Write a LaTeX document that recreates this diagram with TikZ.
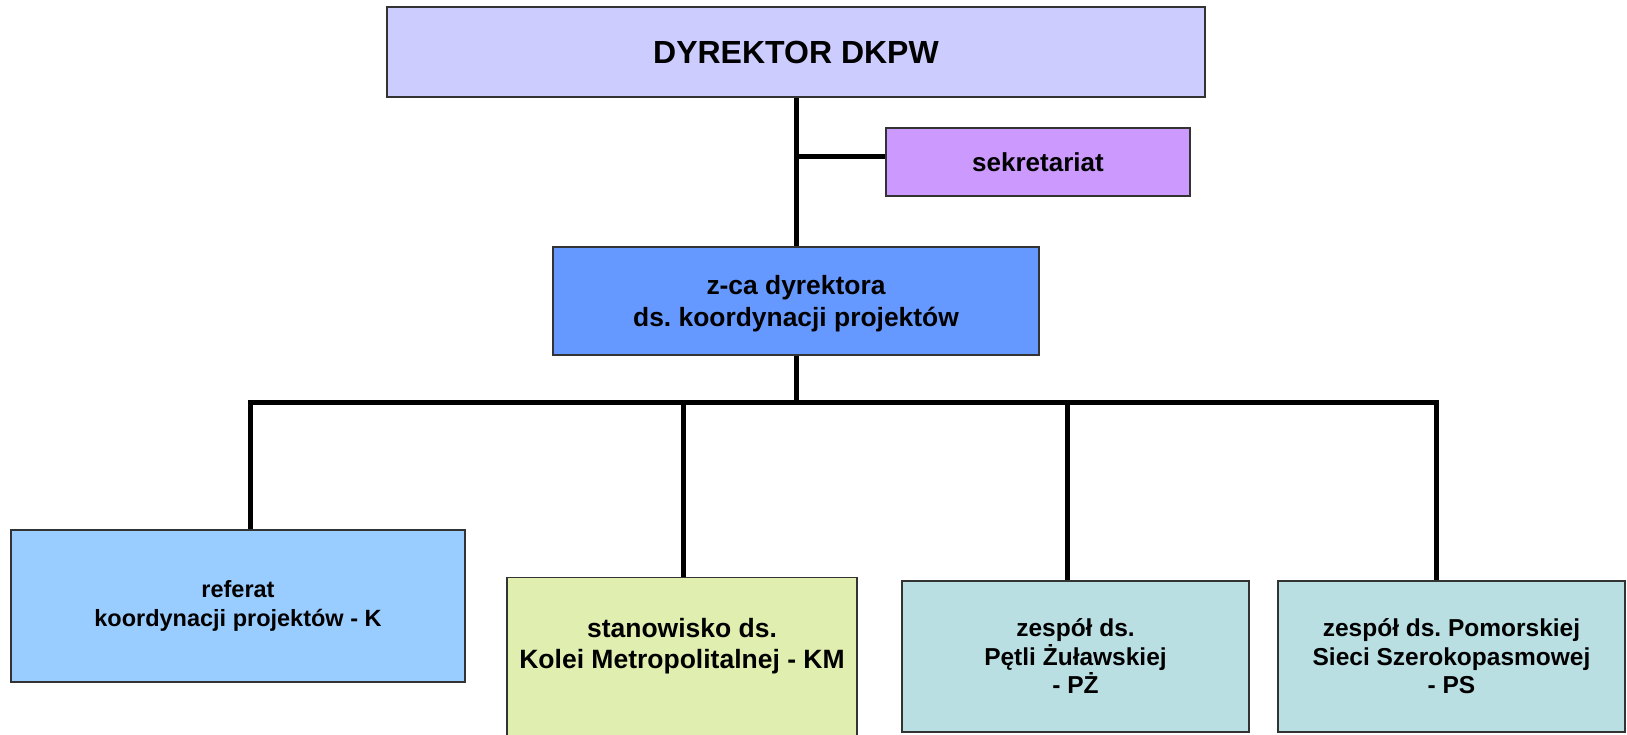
\documentclass[tikz,border=0pt]{standalone}
\usepackage{fontspec}
\setmainfont{Liberation Sans}
\definecolor{cdir}{HTML}{CCCCFF}
\definecolor{csek}{HTML}{CC99FF}
\definecolor{czca}{HTML}{6699FF}
\definecolor{cref}{HTML}{99CCFF}
\definecolor{ckm}{HTML}{E0EFB0}
\definecolor{czesp}{HTML}{B9DFE3}
\begin{document}
\frenchspacing
\begin{tikzpicture}[x=1pt,y=-1pt,
  box/.style={draw=black!80, line width=1.3pt, fill=#1, inner sep=0pt, align=center},
  conn/.style={line width=5pt, draw=black}]
\useasboundingbox (0,0) rectangle (1627,735);
\clip (0,0) rectangle (1627,735);
% nodes
\node[box=cdir, minimum width=818pt, minimum height=90pt,
      font=\fontsize{32}{36}\selectfont\bfseries] (dir) at (796,52) {DYREKTOR DKPW};
\node[box=csek, minimum width=304pt, minimum height=68pt,
      font=\fontsize{26}{30}\selectfont\bfseries] (sek) at (1038,162) {sekretariat};
\node[box=czca, minimum width=486pt, minimum height=108pt,
      font=\fontsize{26.4}{32}\selectfont\bfseries] (zca) at (796,301)
      {\rule{0pt}{25pt}z-ca dyrektora\\ds. koordynacji projektów};
\node[box=cref, minimum width=454pt, minimum height=152pt,
      font=\fontsize{23.5}{29}\selectfont\bfseries] (ref) at (238,606)
      {referat\\koordynacji projektów - K};
\node[box=ckm, minimum width=350pt, minimum height=170pt, anchor=north,
      font=\fontsize{26.5}{31}\selectfont\bfseries] (km) at (682,577)
      {stanowisko ds.\\Kolei Metropolitalnej - KM\rule[-37.6pt]{0pt}{0pt}};
\node[box=czesp, minimum width=347pt, minimum height=151pt,
      font=\fontsize{24.5}{28.5}\selectfont\bfseries] (pz) at (1075.5,656.5)
      {zespół ds.\\Pętli Żuławskiej\\- PŻ};
\node[box=czesp, minimum width=347pt, minimum height=151pt,
      font=\fontsize{24.5}{28.5}\selectfont\bfseries] (ps) at (1451.5,656.5)
      {zespół ds. Pomorskiej\\Sieci Szerokopasmowej\\- PS};
% junction and bus coordinates
\coordinate (sj) at (796,157);
\coordinate (busL) at (250,402);
\coordinate (busR) at (1436,402);
\coordinate (bkm) at (683,402);
\coordinate (bpz) at (1067,402);
% connectors
\draw[conn] (dir.south) -- (zca.north);
\draw[conn] (sj) -- (sj -| sek.west);
\draw[conn] (zca.south) -- (zca.south |- busL);
\draw[conn] (busL |- ref.north) -- (busL) -- (busR) -- (busR |- ps.north);
\draw[conn] (bkm) -- (bkm |- km.north);
\draw[conn] (bpz) -- (bpz |- pz.north);
\end{tikzpicture}
\end{document}
